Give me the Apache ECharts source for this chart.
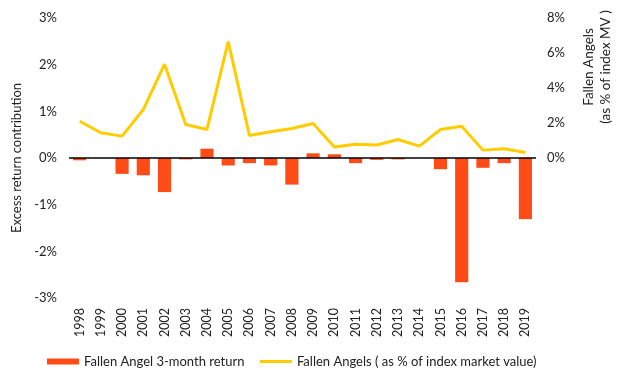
<!DOCTYPE html>
<html><head><meta charset="utf-8">
<script src="https://cdn.jsdelivr.net/npm/echarts@6/dist/echarts.min.js"></script>
<style>html,body{margin:0;padding:0;background:#fff}#c{width:620px;height:379px}</style>
</head><body><div id="c"></div>
<script>
const years = ['1998','1999','2000','2001','2002','2003','2004','2005','2006','2007','2008','2009','2010','2011','2012','2013','2014','2015','2016','2017','2018','2019'];
const returns3m = [-0.05,0,-0.34,-0.37,-0.73,-0.03,0.2,-0.16,-0.11,-0.16,-0.57,0.1,0.08,-0.11,-0.04,-0.03,0,-0.24,-2.66,-0.21,-0.11,-1.31];
const fallenPct = [2.1,1.44,1.25,2.77,5.36,1.91,1.63,6.65,1.29,1.5,1.69,1.97,0.63,0.78,0.74,1.06,0.68,1.63,1.82,0.45,0.53,0.31];
const leftTicks = [-3,-2,-1,0,1,2,3];
const rightTicks = [0,2,4,6,8];

const font = 'Lato, "Open Sans", sans-serif';
const txt = '#222';
const chart = echarts.init(document.getElementById('c'));
chart.setOption({
  animation:false,
  textStyle:{fontFamily:font},
  grid:{left:69,right:84,top:18,bottom:81},
  legend:{
    bottom:6,left:42,itemGap:14,
    textStyle:{fontFamily:font,fontSize:13,color:txt},
    data:[
      {name:'Fallen Angel 3-month return',icon:'rect',itemStyle:{color:'#FF4C17'}},
      {name:'Fallen Angels ( as % of index market value)',itemStyle:{opacity:0},lineStyle:{width:3,color:'#FFCC00'}}
    ],
    itemWidth:32,itemHeight:6
  },
  xAxis:{
    type:'category',data:years,
    axisLine:{show:false},axisTick:{show:false},
    axisLabel:{rotate:90,color:txt,fontSize:12.5,fontFamily:font,margin:10,interval:0}
  },
  yAxis:[
    {type:'value',min:leftTicks[0],max:leftTicks[leftTicks.length-1],interval:1,
     name:'Excess return contribution',nameLocation:'middle',nameGap:46,nameRotate:90,
     nameTextStyle:{color:txt,fontSize:13,fontFamily:font},
     splitLine:{show:false},axisLine:{show:false},axisTick:{show:false},
     axisLabel:{formatter:v=>v+'%',color:txt,fontSize:13,fontFamily:font,margin:12}},
    {type:'value',min:-8,max:rightTicks[rightTicks.length-1],interval:2,
     splitLine:{show:false},axisLine:{show:false},axisTick:{show:false},
     axisLabel:{formatter:v=>rightTicks.includes(v)?v+'%':'',color:txt,fontSize:13,fontFamily:font,margin:11}}
  ],
  graphic:[{
    type:'text',x:597,y:67,rotation:Math.PI/2,
    style:{text:'Fallen Angels\n(as % of index MV )',fill:txt,font:'13.5px '+font,
           align:'center',textAlign:'center',verticalAlign:'middle',textVerticalAlign:'middle',lineHeight:17}
  }],
  series:[
    {name:'Fallen Angel 3-month return',type:'bar',data:returns3m,yAxisIndex:0,barWidth:'62%',
     itemStyle:{color:'#FF4C17'},
     markLine:{silent:true,symbol:'none',label:{show:false},lineStyle:{color:'#000',width:1.5,type:'solid'},data:[{yAxis:0}]}},
    {name:'Fallen Angels ( as % of index market value)',type:'line',data:fallenPct,yAxisIndex:1,
     symbol:'none',lineStyle:{color:'#FFCC00',width:3},itemStyle:{color:'#FFCC00'},z:3}
  ]
});
</script></body></html>
